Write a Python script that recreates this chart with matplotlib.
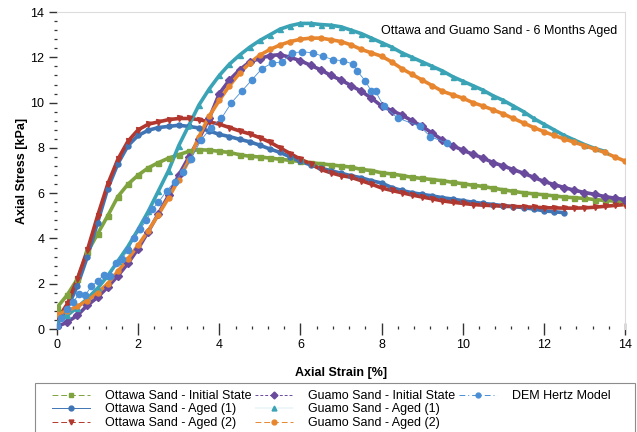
import matplotlib
matplotlib.use("Agg")
from matplotlib import pyplot as plt
from matplotlib.lines import Line2D
from matplotlib.patches import Rectangle
from matplotlib.ticker import MultipleLocator

plt.rcParams["font.family"] = ["Liberation Sans", "DejaVu Sans"]

# strain grid (%) shared by the lab test series
strain = [0, .25, .5, .75, 1, 1.25, 1.5, 1.75, 2, 2.25, 2.5, 2.75, 3, 3.25, 3.5,
          3.75, 4, 4.25, 4.5, 4.75, 5, 5.25, 5.5, 5.75, 6, 6.25, 6.5, 6.75, 7,
          7.25, 7.5, 7.75, 8, 8.25, 8.5, 8.75, 9, 9.25, 9.5, 9.75, 10, 10.25,
          10.5, 10.75, 11, 11.25, 11.5, 11.75, 12, 12.25, 12.5, 12.75, 13,
          13.25, 13.5, 13.75, 14]

ottawa_initial = [0.95, 1.5, 2.2, 3.4, 4.2, 5.0, 5.85, 6.4, 6.8, 7.12, 7.35,
                  7.55, 7.7, 7.85, 7.92, 7.9, 7.85, 7.8, 7.7, 7.63, 7.6, 7.55,
                  7.5, 7.45, 7.4, 7.35, 7.3, 7.25, 7.2, 7.15, 7.05, 7.0, 6.9,
                  6.85, 6.78, 6.7, 6.65, 6.6, 6.55, 6.48, 6.42, 6.35, 6.3,
                  6.22, 6.15, 6.08, 6.02, 5.97, 5.93, 5.88, 5.83, 5.8, 5.77,
                  5.72, 5.68, 5.65, 5.62]
ottawa_aged1 = [0.2, 0.9, 1.9, 3.2, 4.7, 6.2, 7.3, 8.1, 8.55, 8.78, 8.9, 8.95,
                9.0, 8.95, 8.88, 8.75, 8.6, 8.5, 8.38, 8.27, 8.12, 7.95, 7.8,
                7.6, 7.4, 7.25, 7.1, 7.0, 6.88, 6.77, 6.68, 6.55, 6.45, 6.25,
                6.12, 6.02, 5.95, 5.88, 5.8, 5.74, 5.67, 5.6, 5.55, 5.5, 5.45,
                5.41, 5.36, 5.3, 5.22, 5.18, 5.14]
ottawa_aged2 = [0.4, 1.1, 2.2, 3.5, 5.0, 6.4, 7.5, 8.3, 8.8, 9.05, 9.15, 9.25,
                9.3, 9.3, 9.25, 9.15, 9.05, 8.9, 8.75, 8.62, 8.45, 8.25, 8.0,
                7.75, 7.5, 7.3, 7.05, 6.9, 6.78, 6.7, 6.55, 6.4, 6.23, 6.12,
                6.02, 5.92, 5.83, 5.75, 5.66, 5.6, 5.55, 5.5, 5.47, 5.45, 5.42,
                5.41, 5.4, 5.38, 5.36, 5.35, 5.34, 5.34, 5.35, 5.38, 5.42,
                5.46, 5.5]
guamo_initial = [0.1, 0.3, 0.6, 1.05, 1.4, 1.85, 2.35, 2.9, 3.55, 4.3, 5.1,
                 5.9, 6.8, 7.6, 8.4, 9.3, 10.4, 11.0, 11.45, 11.8, 11.95,
                 12.08, 12.12, 12.0, 11.85, 11.65, 11.45, 11.2, 11.0, 10.75,
                 10.5, 10.2, 9.85, 9.65, 9.45, 9.2, 8.95, 8.65, 8.35, 8.1, 7.9,
                 7.72, 7.55, 7.35, 7.2, 7.04, 6.88, 6.7, 6.52, 6.38, 6.25,
                 6.13, 6.03, 5.95, 5.85, 5.78, 5.72]
guamo_aged1 = [0.3, 0.6, 0.95, 1.35, 1.8, 2.35, 3.0, 3.65, 4.4, 5.2, 6.1, 7.0,
               8.1, 9.0, 9.9, 10.6, 11.2, 11.7, 12.1, 12.45, 12.75, 13.0,
               13.25, 13.4, 13.5, 13.5, 13.45, 13.42, 13.35, 13.2, 13.05,
               12.85, 12.65, 12.45, 12.2, 12.0, 11.8, 11.6, 11.4, 11.15,
               10.95, 10.75, 10.55, 10.3, 10.1, 9.85, 9.6, 9.3, 9.05, 8.8,
               8.55, 8.35, 8.15, 7.98, 7.85]
guamo_aged2 = [0.65, 0.8, 1.0, 1.25, 1.6, 2.0, 2.55, 3.1, 3.7, 4.35, 5.05,
               5.8, 6.6, 7.45, 8.5, 9.4, 10.1, 10.75, 11.3, 11.75, 12.1, 12.35,
               12.55, 12.7, 12.8, 12.85, 12.85, 12.78, 12.7, 12.55, 12.35,
               12.2, 12.05, 11.8, 11.5, 11.25, 11.0, 10.75, 10.5, 10.35, 10.2,
               10.0, 9.85, 9.68, 9.5, 9.3, 9.1, 8.9, 8.72, 8.55, 8.4, 8.25,
               8.1, 7.95, 7.8, 7.6, 7.42]

dem_strain = [0, 0.1, 0.25, 0.4, 0.55, 0.7, 0.85, 1.0, 1.15, 1.3, 1.45, 1.6,
              1.75, 1.9, 2.05, 2.2, 2.35, 2.5, 2.7, 2.9, 3.1, 3.3, 3.55, 3.8,
              4.05, 4.3, 4.55, 4.8, 5.05, 5.3, 5.55, 5.8, 6.05, 6.3, 6.55,
              6.8, 7.05, 7.3, 7.4, 7.6, 7.75, 7.85, 8.05, 8.4, 8.95, 9.2, 9.6]
dem_stress = [0.15, 0.5, 0.9, 1.2, 1.55, 1.5, 1.9, 2.1, 2.4, 2.35, 2.9, 3.1,
              3.5, 4.0, 4.4, 4.8, 5.3, 5.6, 6.1, 6.5, 6.95, 7.5, 8.35, 8.9,
              9.3, 10.0, 10.5, 11.0, 11.5, 11.75, 11.8, 12.2, 12.25, 12.2,
              12.05, 11.9, 11.85, 11.7, 11.4, 10.95, 10.5, 10.5, 9.85, 9.32,
              8.95, 8.5, 8.22]

series = [
    ("Ottawa Sand - Initial State", strain, ottawa_initial, "#7fa33f", "s", (0, (6, 3))),
    ("Ottawa Sand - Aged (1)", strain[:len(ottawa_aged1)], ottawa_aged1, "#3f74b5", "o", "-"),
    ("Ottawa Sand - Aged (2)", strain, ottawa_aged2, "#b2372e", "v", (0, (6, 3))),
    ("Guamo Sand - Initial State", strain, guamo_initial, "#6a4a9c", "D", (0, (3, 2))),
    ("Guamo Sand - Aged (1)", strain[:len(guamo_aged1)], guamo_aged1, "#3aa3b5", "^", "-"),
    ("Guamo Sand - Aged (2)", strain, guamo_aged2, "#e8862f", "o", (0, (6, 3))),
]

fig = plt.figure(figsize=(6.37, 4.32), dpi=100)
ax = fig.add_axes([0.0895, 0.2384, 0.8917, 0.7336])

handles = []
for name, xs, ys, color, marker, ls in series:
    ax.plot(xs, ys, color=color, lw=2.6, solid_capstyle="round", zorder=2)
    ax.plot(xs, ys, ls="none", marker=marker, ms=3.6, color=color, zorder=3)
    handles.append(Line2D([], [], color=color, lw=0.7, ls=ls, marker=marker,
                          ms=3.5, markerfacecolor=color, markeredgecolor=color,
                          label=name))
# Guamo aged (1) shows only a faint line in the legend
handles[4].set_linewidth(0.3)
handles[4].set_color("#a9d6de")
handles[4].set_markerfacecolor("#3aa3b5")
handles[4].set_markeredgecolor("#3aa3b5")

dem_color = "#4a8fd6"
ax.plot(dem_strain, dem_stress, color=dem_color, lw=0.6, ls="-", marker="o",
        ms=4.5, zorder=4)
handles.append(Line2D([], [], color=dem_color, lw=0.7, ls=(0, (6, 3, 1, 3)),
                      marker="o", ms=3.5, label="DEM Hertz Model"))
# blanks so the third column holds only the DEM entry
blank = Line2D([], [], alpha=0, label=" ")
handles += [blank, blank]

ax.set_xlim(0, 14)
ax.set_ylim(0, 14)
ax.xaxis.set_major_locator(MultipleLocator(2))
ax.xaxis.set_minor_locator(MultipleLocator(0.4))
ax.yaxis.set_major_locator(MultipleLocator(2))
ax.yaxis.set_minor_locator(MultipleLocator(0.4))
ax.tick_params(axis="x", which="major", direction="inout", length=8, width=1.0,
               labelsize=9, pad=3, color="#333333")
ax.tick_params(axis="x", which="minor", direction="in", length=2.5, width=0.9,
               color="#333333")
ax.tick_params(axis="y", which="major", direction="out", length=6, width=1.0,
               labelsize=9, pad=3, color="#333333")
ax.tick_params(axis="y", which="minor", direction="out", length=2.5, width=0.9,
               color="#333333")
for side in ("left", "bottom"):
    ax.spines[side].set_visible(False)
for side in ("top", "right"):
    ax.spines[side].set_color("#dcdcdc")
    ax.spines[side].set_linewidth(0.8)

ax.set_xlabel("Axial Strain [%]", fontsize=9, fontweight="bold", labelpad=12)
ax.set_ylabel("Axial Stress [kPa]", fontsize=9, fontweight="bold", labelpad=2)
ax.text(0.986, 0.94, "Ottawa and Guamo Sand - 6 Months Aged", transform=ax.transAxes,
        ha="right", va="center", fontsize=9)

# legend box drawn separately so it spans the full width like the original
fig.patches.append(Rectangle((35 / 637, -0.01), 600 / 637, 0.01 + 49 / 432,
                             transform=fig.transFigure, fill=False,
                             edgecolor="#8c8c8c", lw=0.8))
fig.legend(handles=handles, ncol=3, loc="upper left",
           bbox_to_anchor=(45 / 637, 0.1134), borderaxespad=0, fontsize=9,
           handlelength=3.05, handletextpad=1.2, columnspacing=0.3,
           labelspacing=0.12, borderpad=0.55, frameon=False)

fig.savefig("out.png", dpi=100)
